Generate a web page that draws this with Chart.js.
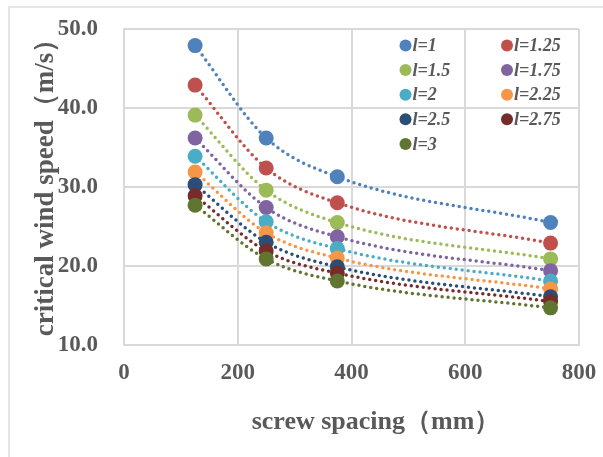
<!DOCTYPE html>
<html>
<head>
<meta charset="utf-8">
<script src="https://cdn.jsdelivr.net/npm/chart.js@4"></script>
<style>
html,body{margin:0;padding:0;background:#fff}
#wrap{width:603px;height:457px;position:relative}
</style>
</head>
<body>
<div id="wrap"><canvas id="grafico" width="603" height="457"></canvas></div>
<script>
// screw spacing (mm)
let espacamento=[125,250,375,750]

let nomes=['l=1','l=1.25','l=1.5','l=1.75','l=2','l=2.25','l=2.5','l=2.75','l=3']
let cores=['#4F81BD','#C0504D','#9BBB59','#8064A2','#4BACC6','#F79646','#2C4D75','#772C2A','#5F7530']

// critical wind speed (m/s), one array per l
let v1=[47.9,36.2,31.3,25.5]
let v125=[42.9,32.4,28.0,22.9]
let v15=[39.1,29.6,25.5,20.9]
let v175=[36.2,27.4,23.7,19.4]
let v2=[33.9,25.6,22.2,18.1]
let v225=[31.9,24.2,21.0,17.1]
let v25=[30.3,23.0,19.9,16.1]
let v275=[28.9,21.9,19.1,15.5]
let v3=[27.7,20.9,18.1,14.7]

let series=[v1,v125,v15,v175,v2,v225,v25,v275,v3]

let xTicks=[0,200,400,600,800]
let yTicks=[10,20,30,40,50]

const SERIF='"Liberation Serif","Times New Roman",serif'
const CINZA='#595959'

let datasets=series.map((vals,i)=>({
label:nomes[i],
data:vals.map((v,k)=>({x:espacamento[k],y:v})),
showLine:true,
cubicInterpolationMode:'monotone',
borderColor:cores[i],
backgroundColor:cores[i],
borderWidth:3.5,
borderDash:[0,6],
borderCapStyle:'round',
pointRadius:7.5,
pointHoverRadius:7.5,
pointBorderWidth:0,
order:9-i
}))

// frame, axis titles and legend inside the plot
const extras={
id:'extras',
beforeDraw(chart){
let c=chart.ctx
c.save()
c.strokeStyle='#dedede'
c.lineWidth=1.5
c.beginPath()
c.moveTo(9,457)
c.lineTo(9,7)
c.lineTo(603,7)
c.stroke()
c.restore()
},
afterDraw(chart){
let c=chart.ctx
c.save()
c.fillStyle=CINZA
c.font='bold 26px '+SERIF
c.textAlign='center'
c.textBaseline='middle'
c.fillText('screw spacing（mm）',376,422)
c.font='bold 27px '+SERIF
c.translate(46,181)
c.rotate(-Math.PI/2)
c.fillText('critical wind speed（m/s）',0,0)
c.restore()

c.save()
c.font='italic bold 18px '+SERIF
c.textBaseline='middle'
c.textAlign='left'
nomes.forEach((n,i)=>{
let col=i%2
let row=Math.floor(i/2)
let mx=col?507:405.5
let my=45.5+row*24.6
c.fillStyle=cores[i]
c.beginPath()
c.arc(mx,my,6,0,Math.PI*2)
c.fill()
c.fillStyle=CINZA
c.fillText(n,mx+7,my+1)
})
c.restore()
}
}

new Chart(document.getElementById('grafico'),{
type:'scatter',
data:{datasets:datasets},
options:{
responsive:false,
animation:false,
events:[],
layout:{padding:{top:29,right:24,left:0,bottom:0}},
plugins:{
legend:{display:false},
tooltip:{enabled:false}
},
scales:{
x:{
type:'linear',
min:0,max:800,
afterFit:s=>{s.height=112;s.paddingLeft=0;s.paddingRight=0},
afterBuildTicks:s=>{s.ticks=xTicks.map(v=>({value:v}))},
grid:{color:'#d9d9d9',lineWidth:2,drawTicks:false},
border:{color:'#d9d9d9',width:2},
ticks:{color:CINZA,padding:14,maxRotation:0,font:{family:SERIF,size:23,weight:'bold'}}
},
y:{
type:'linear',
min:10,max:50,
afterFit:s=>{s.width=124;s.paddingTop=0;s.paddingBottom=0},
afterBuildTicks:s=>{s.ticks=yTicks.map(v=>({value:v}))},
grid:{color:'#d9d9d9',lineWidth:2,drawTicks:false},
border:{color:'#d9d9d9',width:2},
ticks:{color:CINZA,padding:26,callback:v=>Number(v).toFixed(1),font:{family:SERIF,size:23,weight:'bold'}}
}
}
},
plugins:[extras]
})
</script>
</body>
</html>
